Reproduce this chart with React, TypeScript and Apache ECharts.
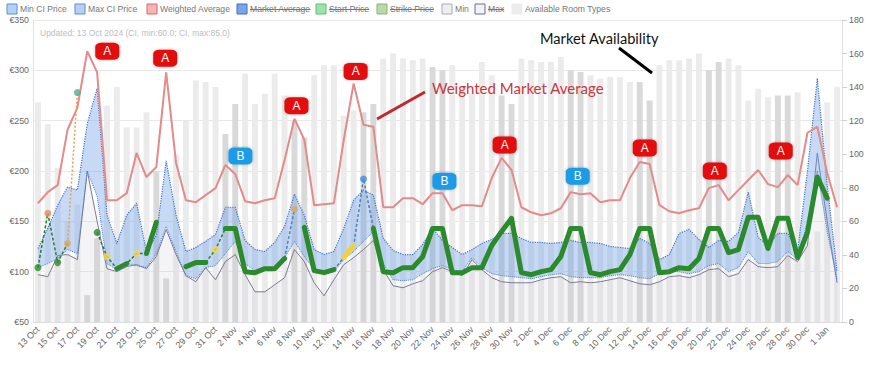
import React, { useEffect, useRef } from "react";
import * as echarts from "echarts";

const dates = [
  "13 Oct", "14 Oct", "15 Oct", "16 Oct", "17 Oct", "18 Oct", "19 Oct", "20 Oct", "21 Oct", "22 Oct",
  "23 Oct", "24 Oct", "25 Oct", "26 Oct", "27 Oct", "28 Oct", "29 Oct", "30 Oct", "31 Oct",
  "1 Nov", "2 Nov", "3 Nov", "4 Nov", "5 Nov", "6 Nov", "7 Nov", "8 Nov", "9 Nov", "10 Nov",
  "11 Nov", "12 Nov", "13 Nov", "14 Nov", "15 Nov", "16 Nov", "17 Nov", "18 Nov", "19 Nov", "20 Nov",
  "21 Nov", "22 Nov", "23 Nov", "24 Nov", "25 Nov", "26 Nov", "27 Nov", "28 Nov", "29 Nov", "30 Nov",
  "1 Dec", "2 Dec", "3 Dec", "4 Dec", "5 Dec", "6 Dec", "7 Dec", "8 Dec", "9 Dec", "10 Dec",
  "11 Dec", "12 Dec", "13 Dec", "14 Dec", "15 Dec", "16 Dec", "17 Dec", "18 Dec", "19 Dec", "20 Dec",
  "21 Dec", "22 Dec", "23 Dec", "24 Dec", "25 Dec", "26 Dec", "27 Dec", "28 Dec", "29 Dec", "30 Dec",
  "31 Dec", "1 Jan", "2 Jan",
];

const availableRoomTypes = [
  131, 118, 92, 60, 70, 16, 50,
  129, 140, 116, 116, 125, 90, 26,
  100, 120, 144, 143, 140, 112, 130,
  148, 130, 136, 148, 135, 120, 110,
  147, 153, 153, 123, 126, 125, 130,
  157, 160, 157, 156, 157, 152, 150,
  153, 140, 136, 155, 147, 135, 130,
  157, 156, 155, 155, 158, 150, 149,
  147, 145, 146, 146, 143, 143, 132,
  153, 156, 156, 157, 160, 150, 155,
  157, 153, 132, 139, 134, 135, 135,
  137, 48, 54, 131, 140,
];

const maxCIPrice = [
  123, 143, 166, 184, 181, 247, 282,
  156, 128, 156, 168, 120, 136, 210,
  156, 120, 124, 130, 137, 164, 164,
  131, 122, 120, 129, 145, 177, 156,
  122, 117, 120, 143, 171, 181, 176,
  133, 121, 117, 117, 127, 143, 131,
  124, 117, 122, 128, 132, 138, 138,
  133, 129, 129, 128, 129, 131, 129,
  129, 128, 125, 124, 123, 133, 128,
  112, 117, 138, 142, 132, 124, 131,
  130, 139, 179, 134, 126, 138, 138,
  120, 200, 292, 186, 100,
];

const minCIPrice = [
  104, 108, 113, 122, 118, 200, 175,
  108, 102, 108, 106, 104, 118, 145,
  120, 96, 93, 104, 106, 118, 130,
  108, 101, 101, 104, 114, 130, 115,
  102, 98, 100, 112, 120, 130, 140,
  108, 92, 91, 92, 98, 103, 106,
  102, 100, 114, 104, 98, 96, 95,
  94, 93, 95, 97, 98, 95, 94,
  94, 94, 96, 97, 96, 94, 93,
  98, 100, 100, 98, 100, 106, 108,
  100, 104, 120, 108, 108, 110, 120,
  112, 150, 200, 140, 92,
];

const weightedAverage = [
  168, 179, 186, 241, 263, 319, 298,
  171, 171, 178, 218, 194, 204, 298,
  208, 171, 169, 176, 183, 206, 197,
  170, 168, 171, 173, 211, 252, 231,
  166, 167, 168, 231, 287, 246, 244,
  164, 164, 173, 173, 167, 178, 178,
  161, 166, 166, 165, 193, 213, 201,
  164, 159, 156, 158, 163, 179, 177,
  178, 169, 171, 171, 193, 209, 207,
  166, 160, 158, 161, 163, 183, 186,
  171, 181, 191, 201, 187, 184, 196,
  186, 238, 244, 198, 164,
];

const minPrice = [
  97, 95, 116, 117, 112, 200, 150,
  103, 100, 105, 107, 103, 115, 142,
  117, 96, 90, 104, 92, 110, 117,
  97, 80, 80, 87, 94, 122, 110,
  89, 76, 92, 107, 114, 122, 131,
  102, 86, 84, 88, 91, 100, 104,
  100, 96, 112, 102, 94, 90, 89,
  89, 89, 92, 94, 95, 89, 90,
  89, 90, 92, 94, 91, 88, 87,
  90, 95, 96, 94, 97, 102, 103,
  95, 98, 112, 105, 104, 105, 116,
  110, 126, 218, 150, 89,
];

const ourPrice = [
  null, null, null, null, null, null, null,
  null, 103, 108, null, 118, 149, null,
  null, 105, 109, 109, null, 143, 143,
  100, 99, 103, 103, 113, null, 144,
  101, 99, 102, null, null, null, 143,
  100, 99, 104, 104, 115, 143, 143,
  99, 99, 104, 104, 126, 140, 153,
  99, 97, 100, 102, 115, 143, 143,
  99, 97, 100, 102, 117, 143, 143,
  99, 100, 104, 103, 113, 143, 143,
  119, 122, 154, 154, 123, 153, 153,
  114, 139, 194, 173, null,
];

// [dayIndex, price]
const pendingPrice = [[31, 114], [32, 126]];
const greenLinks = [[0, 104], [1, 158], [2, 109], [3, 128], [6, 139], [7, 115], [8, 103], [9, 108], [10, 118], [11, 118], [17, 109], [18, 122], [19, 143]];
const orangeLinks = [[3, 128], [4, 278]];
const blueLinks = [[25, 113], [26, 162], [30, 102], [31, 114], [32, 126], [33, 192], [34, 143]];

const dotIndex = [0, 1, 2, 3, 4, 6, 7, 10, 18, 26, 33];
const dotValue = [104, 158, 109, 128, 278, 139, 115, 118, 122, 162, 192];
const dotKind = ["green", "orange", "green", "tan", "teal", "green", "yellow", "yellow", "yellow", "tan", "blue"];

const badgeIndex = [5, 13, 19, 26, 32, 41, 47, 54, 61, 68, 76];
const badgeLabel = ["A", "A", "B", "A", "A", "B", "A", "B", "A", "A", "A"];

const legendNames = ["Min CI Price", "Max CI Price", "Weighted Average", "Market Average", "Start Price", "Strike Price", "Min", "Max", "Available Room Types"];
const legendHidden = [false, false, false, true, true, true, false, true, false];

// ---- styling / layout (not data) ----
const dotColors: Record<string, string> = {
  green: "#2e8b2e", orange: "#e58f5c", tan: "#d9a862", teal: "#5aa894", yellow: "#f2d64b", blue: "#3d8fd6",
};
const badgeOffsets = [[20, 0], [-1, -14], [15, -9], [2, -13], [2, -12], [2, -12], [3, -13], [7, -16], [5, -14], [6, -17], [-7, -24]];
const legendX = [7, 75, 147, 237, 316, 377, 442, 475, 512];
const legendFill = ["rgba(120,170,235,0.55)", "rgba(120,170,235,0.55)", "rgba(240,130,130,0.6)", "#7aa6e6", "#9be3a8", "#b9d9a8", "#eeeeee", "#f1f1f7", "#ececec"];
const legendStroke = ["#5b8fd9", "#5b8fd9", "#e06666", "#3d6fc2", "#5cbf6d", "#8ab27a", "#a8a8bc", "#6c6c90", "#ececec"];

const FONT = '"Liberation Sans", Arial, sans-serif';

function sparse(points: number[][]) {
  const arr: (number | null)[] = dates.map(() => null);
  points.forEach(([i, v]) => { arr[i] = v; });
  return arr;
}

function measure(text: string, font: string) {
  const ctx = document.createElement("canvas").getContext("2d");
  if (!ctx) return text.length * 4.5;
  ctx.font = font;
  return ctx.measureText(text).width;
}

export default function App() {
  const ref = useRef<HTMLDivElement>(null);

  useEffect(() => {
    const chart = echarts.init(ref.current!, null, { renderer: "svg" });

    const legendFont = `8.6px ${FONT}`;
    const legendGraphics: any[] = [];
    legendNames.forEach((name, k) => {
      const x = legendX[k];
      legendGraphics.push({
        type: "rect", shape: { x, y: 4, width: 10, height: 10 },
        style: { fill: legendFill[k], stroke: legendStroke[k], lineWidth: 1 },
      });
      legendGraphics.push({
        type: "text", x: x + 13, y: 9,
        style: { text: name, fill: "#777", font: legendFont, textVerticalAlign: "middle", verticalAlign: "middle" },
      });
      if (legendHidden[k]) {
        const w = measure(name, legendFont);
        legendGraphics.push({
          type: "line", shape: { x1: x + 13, y1: 9.5, x2: x + 13 + w, y2: 9.5 },
          style: { stroke: "#777", lineWidth: 1 },
        });
      }
    });

    const ciDiff = maxCIPrice.map((v, i) => v - minCIPrice[i]);

    const option: any = {
      animation: false,
      grid: { left: 33, right: 27, top: 20, bottom: 50, containLabel: false },
      xAxis: {
        type: "category",
        data: dates,
        boundaryGap: true,
        axisLine: { show: true, lineStyle: { color: "#dddddd" } },
        axisTick: { show: false },
        axisLabel: { rotate: 45, interval: 1, fontSize: 9, color: "#666", fontFamily: FONT, margin: 6 },
        splitLine: { show: false },
      },
      yAxis: [
        {
          type: "value", min: 50, max: 350, interval: 50,
          axisLine: { show: true, lineStyle: { color: "#e2e2e2" } },
          axisTick: { show: false },
          axisLabel: { formatter: "€{value}", fontSize: 8.8, color: "#666", fontFamily: FONT, margin: 4 },
          splitLine: { show: true, lineStyle: { color: "#e8e8e8" } },
        },
        {
          type: "value", min: 0, max: 180, interval: 20, position: "right",
          axisLine: { show: true, lineStyle: { color: "#e2e2e2" } },
          axisTick: { show: true, length: 5, lineStyle: { color: "#d0d0d0" } },
          axisLabel: { fontSize: 8.8, color: "#666", fontFamily: FONT, margin: 7 },
          splitLine: { show: false },
        },
      ],
      graphic: [
        ...legendGraphics,
        {
          type: "text", x: 40, y: 33,
          style: { text: "Updated: 13 Oct 2024 (CI, min:60.0; CI, max:85.0)", fill: "#bdbdbd", font: `8.5px ${FONT}`, textVerticalAlign: "middle", verticalAlign: "middle" },
        },
        {
          type: "text", x: 432, y: 88, z: 100,
          style: { text: "Weighted Market Average", fill: "#c9363e", font: "15px Lato, sans-serif", textVerticalAlign: "middle", verticalAlign: "middle" },
        },
        {
          type: "line", z: 100, shape: { x1: 377, y1: 119, x2: 425, y2: 92 },
          style: { stroke: "#c0282d", lineWidth: 3 },
        },
        {
          type: "text", x: 540, y: 38, z: 100,
          style: { text: "Market Availability", fill: "#111", font: "14.6px Lato, sans-serif", textVerticalAlign: "middle", verticalAlign: "middle" },
        },
        {
          type: "line", z: 100, shape: { x1: 619, y1: 48, x2: 652, y2: 73 },
          style: { stroke: "#000", lineWidth: 3 },
        },
      ],
      series: [
        {
          name: "Available Room Types", type: "bar", yAxisIndex: 1, barWidth: "60%", z: 1,
          data: availableRoomTypes.map((v, i) => ({
            value: v,
            itemStyle: { color: i % 7 === 5 || i % 7 === 6 ? "#d9d9d9" : "#ebebeb" },
          })),
        },
        {
          name: "Min", type: "line", data: minPrice, symbol: "none", z: 2,
          lineStyle: { color: "#7a7a98", width: 1 },
          areaStyle: { color: "rgba(205,205,212,0.3)", origin: "start" },
        },
        {
          name: "Min CI Price", type: "line", data: minCIPrice, stack: "ci", symbol: "none", z: 3,
          lineStyle: { color: "#4a7cd0", width: 1, type: "dotted" },
        },
        {
          name: "Max CI Price", type: "line", data: ciDiff, stack: "ci", symbol: "none", z: 3,
          lineStyle: { color: "#3f72c8", width: 1.2, type: "dotted" },
          areaStyle: { color: "rgba(110,160,230,0.55)" },
        },
        {
          name: "Weighted Average", type: "line", data: weightedAverage, symbol: "none", z: 4,
          lineStyle: { color: "#e48a8a", width: 2 },
          markPoint: {
            symbol: "roundRect",
            symbolSize: [24, 17],
            data: badgeIndex.map((idx, k) => ({
              coord: [dates[idx], weightedAverage[idx]],
              symbolOffset: badgeOffsets[k],
              itemStyle: {
                color: badgeLabel[k] === "A" ? "#e30b0b" : "#1e9be6",
                shadowBlur: 3, shadowColor: "rgba(0,0,0,0.3)",
              },
              label: { show: true, formatter: badgeLabel[k], color: "#fff", fontSize: 12, fontFamily: FONT },
            })),
          },
        },
        {
          name: "links-green", type: "line", data: sparse(greenLinks), symbol: "none", z: 5, connectNulls: false,
          lineStyle: { color: "#2e7d32", width: 1.5, type: [3, 2] },
        },
        {
          name: "links-orange", type: "line", data: sparse(orangeLinks), symbol: "none", z: 5, connectNulls: false,
          lineStyle: { color: "#e3a04e", width: 1.5, type: [2, 2] },
        },
        {
          name: "links-blue", type: "line", data: sparse(blueLinks), symbol: "none", z: 5, connectNulls: false,
          lineStyle: { color: "#4f7fbf", width: 1.5, type: [3, 2] },
        },
        {
          name: "Our Price", type: "line", data: ourPrice, symbol: "none", z: 6, connectNulls: false,
          lineStyle: { color: "#2b8a2b", width: 5, join: "round", cap: "round" },
        },
        {
          name: "Pending Price", type: "line", data: sparse(pendingPrice), symbol: "none", z: 6, connectNulls: false,
          lineStyle: { color: "#f2d23c", width: 5, cap: "round" },
        },
        {
          name: "Markers", type: "scatter", z: 7, symbolSize: 7,
          data: dotIndex.map((idx, k) => ({
            value: [dates[idx], dotValue[k]],
            itemStyle: { color: dotColors[dotKind[k]] },
          })),
        },
      ],
    };

    chart.setOption(option);
    return () => chart.dispose();
  }, []);

  return <div ref={ref} style={{ position: "absolute", left: 0, top: 0, width: 869, height: 372 }} />;
}
